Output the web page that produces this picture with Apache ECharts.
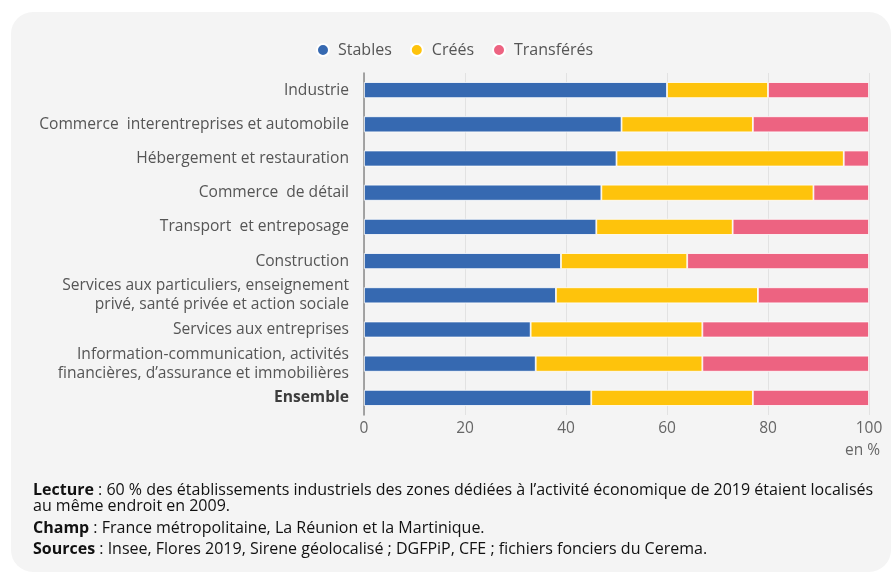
<!DOCTYPE html>
<html>
<head>
<meta charset="utf-8">
<script src="https://cdn.jsdelivr.net/npm/echarts@6/dist/echarts.min.js"></script>
<style>
  html, body { margin: 0; padding: 0; background: #fff; }
  #panel { position: absolute; left: 11px; top: 12px; width: 880px; height: 560px; background: #f4f4f4; border-radius: 22px; }
  #main { position: absolute; left: 0; top: 0; width: 892px; height: 574px; }
</style>
</head>
<body>
<div id="panel"></div>
<div id="main"></div>
<script>
// categories, top to bottom
const categories = [
  'Industrie',
  'Commerce  interentreprises et automobile',
  'Hébergement et restauration',
  'Commerce  de détail',
  'Transport  et entreposage',
  'Construction',
  'Services aux particuliers, enseignement\nprivé, santé privée et action sociale',
  'Services aux entreprises',
  'Information-communication, activités\nfinancières, d\u2019assurance et immobilières',
  'Ensemble'
];
const stables = [60, 51, 50, 47, 46, 39, 38, 33, 34, 45];
const crees = [20, 26, 45, 42, 27, 25, 40, 34, 33, 32];
const transferes = [20, 23, 5, 11, 27, 36, 22, 33, 33, 23];
const xTicks = [0, 20, 40, 60, 80, 100];

const font = '"Open Sans", "Noto Sans", sans-serif';
const colors = ['#3669b1', '#fec30c', '#ed6381'];

const chart = echarts.init(document.getElementById('main'));

function barSeries(name, data, color) {
  return {
    name: name,
    type: 'bar',
    stack: 'total',
    barWidth: 16,
    data: data,
    itemStyle: { color: color, borderColor: '#ffffff', borderWidth: 0.8 }
  };
}

const bold = { fontFamily: font, fontSize: 16, fontWeight: 'bold', fill: '#111' };

function note(top, text) {
  return {
    type: 'text', left: 33, top: top,
    style: {
      text: text, fontFamily: font, fontSize: 16, fill: '#111', lineHeight: 16,
      rich: { b: Object.assign({ lineHeight: 16 }, bold) }
    }
  };
}

const option = {
  backgroundColor: 'transparent',
  textStyle: { fontFamily: font },
  legend: {
    left: 311,
    top: 37,
    icon: 'circle',
    itemWidth: 12,
    itemHeight: 12,
    itemGap: 18,
    textStyle: { fontFamily: font, fontSize: 16, color: '#555', padding: [0, 0, 0, 4] },
    data: ['Stables', 'Créés', 'Transférés']
  },
  grid: { left: 364, right: 23, top: 73, height: 342 },
  xAxis: {
    type: 'value',
    min: xTicks[0],
    max: xTicks[xTicks.length - 1],
    interval: 20,
    axisLine: { show: false },
    axisTick: { show: false },
    splitLine: { show: true, lineStyle: { color: '#e2e2e2', width: 1 } },
    axisLabel: { fontFamily: font, fontSize: 15.5, color: '#666', margin: 6 }
  },
  yAxis: {
    type: 'category',
    inverse: true,
    data: categories,
    axisLine: { show: true, lineStyle: { color: '#8a8a8a', width: 1.5 } },
    axisTick: { show: false },
    axisLabel: {
      fontFamily: font,
      fontSize: 15.6,
      color: '#555',
      margin: 15,
      lineHeight: 19,
      align: 'right',
      formatter: function (v) {
        return v === 'Ensemble' ? '{b|' + v + '}' : v;
      },
      rich: {
        b: { fontFamily: font, fontSize: 15.6, fontWeight: 'bold', color: '#3d3d3d' }
      }
    }
  },
  series: [
    barSeries('Stables', stables, colors[0]),
    barSeries('Créés', crees, colors[1]),
    barSeries('Transférés', transferes, colors[2])
  ],
  graphic: [
    {
      type: 'text', right: 12, top: 443,
      style: { text: 'en %', fontFamily: font, fontSize: 15.5, fill: '#666' }
    },
    note(482, '{b|Lecture} : 60 % des établissements industriels des zones dédiées à l\u2019activité économique de 2019 étaient localisés\n' +
      'au même endroit en 2009.'),
    note(520, '{b|Champ} : France métropolitaine, La Réunion et la Martinique.'),
    note(541, '{b|Sources} : Insee, Flores 2019, Sirene géolocalisé ; DGFPiP, CFE ; fichiers fonciers du Cerema.')
  ]
};

chart.setOption(option);
</script>
</body>
</html>
